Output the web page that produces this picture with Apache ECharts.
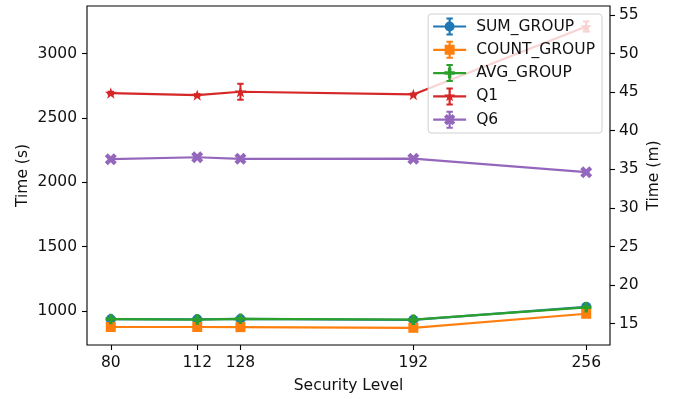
<!DOCTYPE html>
<html>
<head>
<meta charset="utf-8">
<script src="https://cdn.jsdelivr.net/npm/echarts@6/dist/echarts.min.js"></script>
<style>
  html, body { margin: 0; padding: 0; background: #fff; }
  #chart { width: 674px; height: 399px; }
</style>
</head>
<body>
<div id="chart"></div>
<script>
// Query run times (seconds) per security level, with error margins
const securityLevels = [80, 112, 128, 192, 256];
const sumGroup = [935, 934, 937, 930, 1031];
const sumGroupErr = [12, 10, 12, 10, 14];
const countGroup = [874, 874, 873, 868, 977];
const countGroupErr = [10, 10, 10, 14, 12];
const avgGroup = [936, 932, 938, 931, 1027];
const avgGroupErr = [10, 10, 10, 10, 12];
const q1 = [2693, 2677, 2703, 2682, 3210];
const q1Err = [10, 8, 62, 8, 40];
const q6 = [2179, 2194, 2182, 2183, 2078];
const q6Err = [10, 8, 10, 8, 10];

const xTickLabels = [80, 112, 128, 192, 256];
const secondsTicks = [1000, 1500, 2000, 2500, 3000];
const minutesTicks = [15, 20, 25, 30, 35, 40, 45, 50, 55];

const FONT = 'DejaVu Sans';
const FS = 15.5;
const COLORS = ['#1f77b4', '#ff7f0e', '#2ca02c', '#d62728', '#9467bd'];

// ---- marker shapes (clockwise polygons) ----
const plusPts = [[-1,-3],[1,-3],[1,-1],[3,-1],[3,1],[1,1],[1,3],[-1,3],[-1,1],[-3,1],[-3,-1],[-1,-1]]
  .map(([x, y]) => [x / 6, y / 6]);
const crossPts = plusPts.map(([x, y]) => [(x - y) / Math.SQRT2, (x + y) / Math.SQRT2]);
const starPts = [];
for (let k = 0; k < 10; k++) {
  const a = (-90 + 36 * k) * Math.PI / 180;
  const r = (k % 2 === 0 ? 0.5 : 0.5 * 0.381966);
  starPts.push([r * Math.cos(a), r * Math.sin(a)]);
}
function poly(pts, cx, cy, s) {
  return pts.map((p, i) => (i ? 'L' : 'M') + (cx + p[0] * s).toFixed(2) + ',' + (cy + p[1] * s).toFixed(2)).join(' ') + ' Z';
}
function rect(x0, y0, x1, y1) {
  return `M${x0},${y0} L${x1},${y0} L${x1},${y1} L${x0},${y1} Z`;
}
function circle(cx, cy, r) {
  return `M${cx + r},${cy} A${r},${r} 0 1 1 ${cx - r},${cy} A${r},${r} 0 1 1 ${cx + r},${cy} Z`;
}

// legend handle: line + error bar with caps + marker
const LW = 33, LH = 18, LCX = LW / 2, LCY = LH / 2;
const handleBase =
  rect(0, LCY - 1.1, LW, LCY + 1.1) +
  rect(LCX - 1.1, 0, LCX + 1.1, LH) +
  rect(LCX - 3.2, 0, LCX + 3.2, 2) +
  rect(LCX - 3.2, LH - 2, LCX + 3.2, LH);
const legendIcons = {
  SUM_GROUP: 'path://' + handleBase + circle(LCX, LCY, 5),
  COUNT_GROUP: 'path://' + handleBase + rect(LCX - 5, LCY - 5, LCX + 5, LCY + 5),
  AVG_GROUP: 'path://' + handleBase + poly(plusPts, LCX, LCY, 10.5),
  Q1: 'path://' + handleBase + poly(starPts, LCX, LCY, 12),
  Q6: 'path://' + handleBase + poly(crossPts, LCX, LCY, 12)
};

const groups = [
  { name: 'SUM_GROUP', vals: sumGroup, err: sumGroupErr, symbol: 'circle', size: 10 },
  { name: 'COUNT_GROUP', vals: countGroup, err: countGroupErr, symbol: 'rect', size: 10 },
  { name: 'AVG_GROUP', vals: avgGroup, err: avgGroupErr, symbol: 'path://' + poly(plusPts, 0, 0, 10), size: 10.5 },
  { name: 'Q1', vals: q1, err: q1Err, symbol: 'path://' + poly(starPts, 0, 0, 10), size: 12 },
  { name: 'Q6', vals: q6, err: q6Err, symbol: 'path://' + poly(crossPts, 0, 0, 10), size: 12 }
];

// autoscale limits with 5% margins, including error bars
let lo = Infinity, hi = -Infinity;
groups.forEach(g => g.vals.forEach((v, i) => {
  lo = Math.min(lo, v - g.err[i]);
  hi = Math.max(hi, v + g.err[i]);
}));
const pad = (hi - lo) * 0.05;
const yMin = lo - pad, yMax = hi + pad;
const xPad = (Math.max(...securityLevels) - Math.min(...securityLevels)) * 0.05;
const xMin = Math.min(...securityLevels) - xPad, xMax = Math.max(...securityLevels) + xPad;

function errorRender(color) {
  return function (params, api) {
    const x = api.value(0);
    const pLo = api.coord([x, api.value(1)]);
    const pHi = api.coord([x, api.value(2)]);
    const style = { stroke: color, lineWidth: 2 };
    return {
      type: 'group',
      children: [
        { type: 'line', shape: { x1: pLo[0], y1: pLo[1], x2: pHi[0], y2: pHi[1] }, style },
        { type: 'line', shape: { x1: pLo[0] - 3.2, y1: pLo[1], x2: pLo[0] + 3.2, y2: pLo[1] }, style },
        { type: 'line', shape: { x1: pHi[0] - 3.2, y1: pHi[1], x2: pHi[0] + 3.2, y2: pHi[1] }, style }
      ]
    };
  };
}

const series = [];
groups.forEach((g, gi) => {
  const color = COLORS[gi];
  series.push({
    type: 'custom',
    name: g.name,
    xAxisIndex: 0,
    yAxisIndex: 0,
    data: securityLevels.map((x, i) => [x, g.vals[i] - g.err[i], g.vals[i] + g.err[i]]),
    encode: { x: 0, y: [1, 2] },
    renderItem: errorRender(color),
    itemStyle: { color },
    silent: true,
    z: 2
  });
  series.push({
    type: 'line',
    name: g.name,
    xAxisIndex: 0,
    yAxisIndex: 0,
    data: securityLevels.map((x, i) => [x, g.vals[i]]),
    symbol: g.symbol,
    symbolSize: g.size,
    symbolKeepAspect: true,
    showSymbol: true,
    lineStyle: { color, width: 2.2 },
    itemStyle: { color, borderWidth: 0 },
    emphasis: { disabled: true },
    z: 2
  });
});

const labelStyle = { fontFamily: FONT, fontSize: FS, color: '#111' };
const plain = v => String(v);

const chart = echarts.init(document.getElementById('chart'), null, { renderer: 'canvas' });
chart.setOption({
  animation: false,
  backgroundColor: '#fff',
  grid: {
    left: 87, right: 64, top: 6, bottom: 54,
    show: true, borderColor: '#000', borderWidth: 1.1, backgroundColor: 'transparent'
  },
  xAxis: {
    type: 'value',
    min: xMin, max: xMax,
    name: 'Security Level',
    nameLocation: 'middle',
    nameGap: 33,
    nameTextStyle: labelStyle,
    axisLine: { show: false },
    axisTick: { show: true, length: 5, lineStyle: { color: '#000', width: 1.1 }, customValues: xTickLabels },
    axisLabel: { ...labelStyle, margin: 10, formatter: plain, customValues: xTickLabels },
    splitLine: { show: false }
  },
  yAxis: [
    {
      type: 'value',
      position: 'left',
      min: yMin, max: yMax,
      name: 'Time (s)',
      nameLocation: 'middle',
      nameRotate: 90,
      nameGap: 56,
      nameMoveOverlap: false,
      nameTextStyle: labelStyle,
      axisLine: { show: false },
      axisTick: { show: true, length: 5, lineStyle: { color: '#000', width: 1.1 }, customValues: secondsTicks },
      axisLabel: { ...labelStyle, margin: 10, formatter: plain, customValues: secondsTicks },
      splitLine: { show: false }
    },
    {
      type: 'value',
      position: 'right',
      min: yMin / 60, max: yMax / 60,
      name: 'Time (m)',
      nameLocation: 'middle',
      nameRotate: 90,
      nameGap: 36,
      nameMoveOverlap: false,
      nameTextStyle: labelStyle,
      axisLine: { show: false },
      axisTick: { show: true, length: 5, lineStyle: { color: '#000', width: 1.1 }, customValues: minutesTicks },
      axisLabel: { ...labelStyle, margin: 9, formatter: plain, customValues: minutesTicks },
      splitLine: { show: false }
    }
  ],
  legend: {
    orient: 'vertical',
    right: 72,
    top: 14,
    itemWidth: LW,
    itemHeight: LH,
    itemGap: 5.3,
    padding: [3.5, 7, 4.3, 5],
    backgroundColor: 'rgba(255,255,255,0.8)',
    borderColor: '#d0d0d0',
    borderWidth: 1,
    borderRadius: 3,
    selectedMode: false,
    textStyle: { fontFamily: FONT, fontSize: FS, color: '#111', padding: [0, 0, 0, 5] },
    data: groups.map(g => ({ name: g.name, icon: legendIcons[g.name] }))
  },
  series
});
</script>
</body>
</html>
